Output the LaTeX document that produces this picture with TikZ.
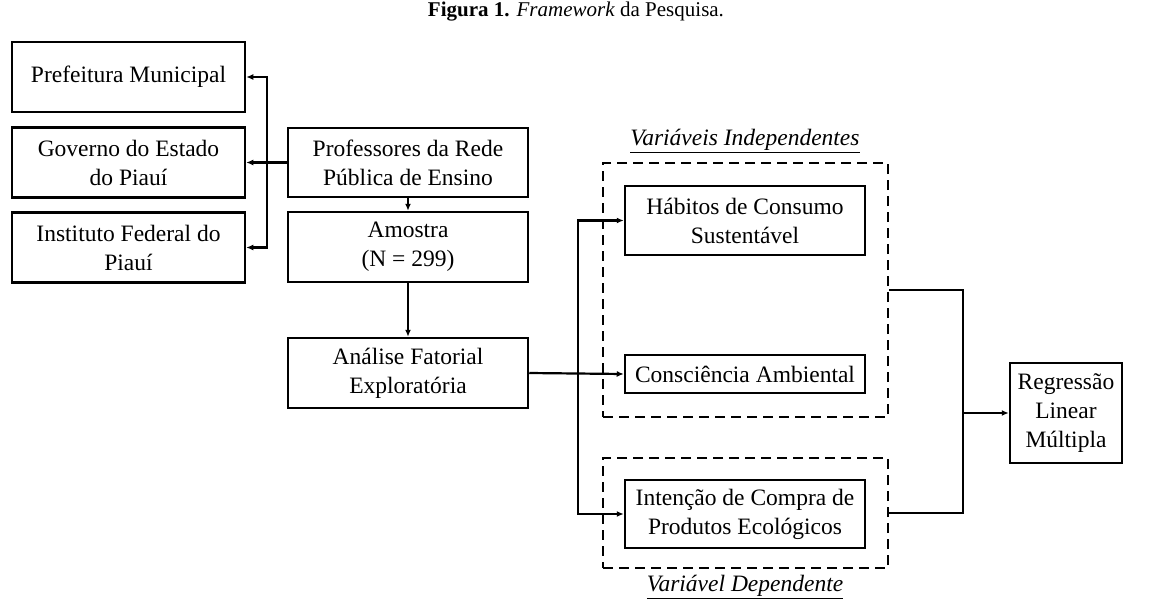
\documentclass[tikz,border=0pt]{standalone}
\usepackage{fontspec}
\setmainfont{Liberation Serif}
\usetikzlibrary{arrows.meta,calc}

\begin{document}
\begin{tikzpicture}[
        x=1pt,y=-1pt,
        every node/.style={inner sep=0pt,font=\fontsize{23.5}{29}\selectfont},
        box/.style={draw,line width=2.5pt,align=center,minimum width=233pt,minimum height=70pt},
        group/.style={draw,line width=2.3pt,dash pattern=on 10pt off 6pt},
        link/.style={line width=2.2pt},
        arr/.style={link,-{Latex[length=7pt,width=6pt]}},
      ]
      \useasboundingbox (0,0) rectangle (1152,598);
      \node[font=\fontsize{21}{25}\selectfont] (title) at (576,12) {\textbf{Figura 1.} \textit{Framework} da Pesquisa.};
      \node[box] (pref) at (128.5,77) {Prefeitura Municipal};
      \node[box] (gov) at (128.5,162.5) {Governo do Estado\\do Piauí};
      \node[box] (inst) at (128.5,247.5) {Instituto Federal do\\Piauí};
      \node[box,minimum width=240pt,minimum height=69pt] (prof) at (408,162.5) {Professores da Rede\\Pública de Ensino};
      \node[box,minimum width=240pt] (amos) at (408,247) {Amostra\\(N = 299)};
      \node[box,minimum width=240pt] (afe) at (408,373) {Análise Fatorial\\Exploratória};
      \node[group,minimum width=285pt,minimum height=254pt] (vi) at (745.5,290) {};
      \node[group,minimum width=285pt,minimum height=110pt] (vd) at (745.5,513) {};
      \node[box,minimum width=240pt,minimum height=69pt] (hab) at (745,220.5) {Hábitos de Consumo\\Sustentável};
      \node[box,minimum width=240pt,minimum height=38pt] (cons) at (745,374) {Consciência Ambiental};
      \node[box,minimum width=112pt,minimum height=100pt] (reg) at (1066,413) {Regressão\\Linear\\Múltipla};
      \node[box,minimum width=240pt,minimum height=68pt] (int) at (745,514) {Intenção de Compra de\\Produtos Ecológicos};
      \node (lvi) at (745,141) {\textit{\underline{Variáveis Independentes}}};
      \node (lvd) at (745,587) {\textit{\underline{Variável Dependente}}};
      \coordinate (lbus) at (267,162.5);
      \coordinate (mbus) at (578,373);
      \coordinate (rbus) at (963,413);
      \draw[arr] (prof.west) -- (gov.east);
      \draw[arr] (lbus) |- (pref.east);
      \draw[arr] (lbus) |- (inst.east);
      \draw[arr] (prof.south) -- (amos.north);
      \draw[arr] (amos.south) -- (afe.north);
      \draw[arr] (afe.east) -- (cons.west);
      \draw[arr] (mbus) |- (hab.west);
      \draw[arr] (mbus) |- (int.west);
      \draw[link] (vi.east) -| (rbus) |- (vd.east);
      \draw[arr] (rbus) -- (reg.west);
      \end{tikzpicture}
\end{document}
